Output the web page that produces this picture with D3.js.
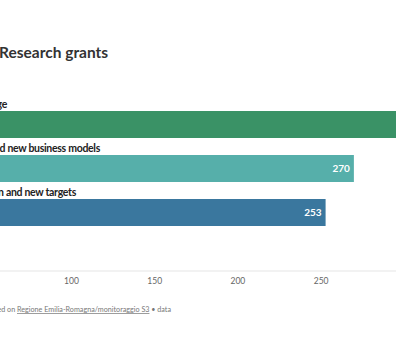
<!DOCTYPE html>
<html><head><meta charset="utf-8">
<script src="https://cdn.jsdelivr.net/npm/d3@7"></script>
<style>
html,body{margin:0;padding:0;background:#fff;overflow:hidden;}
svg{display:block;font-family:Lato,"Open Sans",sans-serif;}
</style></head>
<body>
<svg id="c" width="396" height="360"></svg>
<script>
const categories = ["Digital technologies and knowledge", "Product innovation and new business models", "Market diversification and new targets"];
const values = [340, 270, 253];
const colors = ["#3a9266", "#56afaa", "#3a779e"];
const tickValues = [0, 50, 100, 150, 200, 250, 300];
const title = "Research grants";
const sourcePrefix = "Based on ";
const sourceLink = "Regione Emilia-Romagna/monitoraggio S3";
const sourceSuffix = " \u2022 data";

// layout (the chart is wider than the window and shown cropped)
const labelEnds = [7, 100, 76];

const svg = d3.select("#c");
const x = d3.scaleLinear().domain([0, 50]).range([-95.4, -12.2]);
const rowTop = 96, rowStep = 44, barH = 27, labelH = 15;

svg.append("text").attr("x", -1).attr("y", 58)
  .attr("font-size", 15.5).attr("font-weight", 700).attr("fill", "#333")
  .text(title);

const rows = svg.selectAll("g.row").data(categories).join("g")
  .attr("transform", (d, i) => `translate(0,${rowTop + i * rowStep})`);

rows.append("text").attr("x", (d, i) => labelEnds[i]).attr("y", labelH - 3)
  .attr("text-anchor", "end")
  .attr("font-size", 10.5).attr("letter-spacing", -0.3).attr("font-weight", 700).attr("fill", "#222")
  .text(d => d);

rows.append("rect").attr("x", x(0)).attr("y", labelH)
  .attr("width", (d, i) => x(values[i]) - x(0)).attr("height", barH)
  .attr("fill", (d, i) => colors[i]);

rows.append("text").attr("x", (d, i) => x(values[i]) - 4).attr("y", labelH + barH / 2 + 3.5)
  .attr("text-anchor", "end").attr("font-size", 10).attr("font-weight", 700).attr("fill", "#fff")
  .text((d, i) => values[i]);

const axisY = 271;
svg.append("line").attr("x1", 0).attr("x2", 396).attr("y1", axisY).attr("y2", axisY)
  .attr("stroke", "#e5e5e5").attr("stroke-width", 1);

const ax = svg.append("g").attr("transform", `translate(0,${axisY})`)
  .call(d3.axisBottom(x).tickValues(tickValues).tickSize(0).tickPadding(7));
ax.select(".domain").remove();
ax.selectAll("text").attr("font-size", 8.5).attr("fill", "#666")
  .attr("font-family", "Lato, 'Open Sans', sans-serif");

const src = svg.append("text").attr("y", 312).attr("font-size", 7.2).attr("fill", "#777");
const t1 = src.append("tspan").text(sourcePrefix);
src.append("tspan").attr("text-decoration", "underline").text(sourceLink);
src.append("tspan").text(sourceSuffix);
const pw = t1.node().getComputedTextLength();
src.attr("x", 17 - pw);
</script>
</body></html>
